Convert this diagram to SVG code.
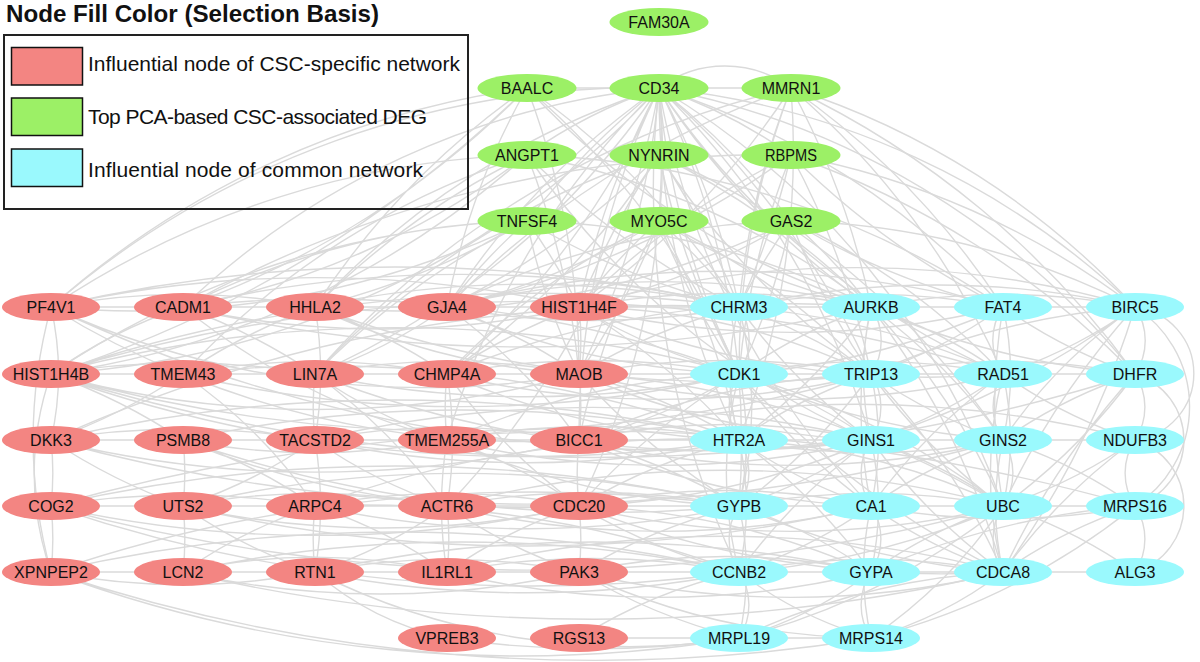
<svg xmlns="http://www.w3.org/2000/svg" width="1200" height="662" viewBox="0 0 1200 662">
<style>
.e path{fill:none;stroke:#dadada;stroke-width:1.4}
.r{fill:#F38582}.g{fill:#9CF066}.c{fill:#9AF9FD}
.t{font-family:"Liberation Sans",Arial,Helvetica,sans-serif;font-size:16px;text-anchor:middle;fill:#111}
.lt{font-family:"Liberation Sans",Arial,Helvetica,sans-serif;font-size:21px;fill:#111}
.sw{stroke:#111;stroke-width:1.5}
</style>
<rect width="1200" height="662" fill="#fff"/>
<g id="connectors" class="e">
<path d="M659 88A800 800 0 0 1 739 307M659 88A800 800 0 0 0 871 307M659 88A800 800 0 0 1 1003 307M659 88A800 800 0 0 1 1135 307M659 88A800 800 0 0 0 739 374M659 88A800 800 0 0 1 871 374M659 88A800 800 0 0 0 1003 374M659 88A800 800 0 0 1 1135 374M659 88A800 800 0 0 0 739 440M659 88A800 800 0 0 1 871 440M659 88A800 800 0 0 1 739 506M659 88A800 800 0 0 0 871 506M659 88A800 800 0 0 1 1003 506M659 88A900 900 0 0 0 739 572"/>
<path d="M659 88A800 800 0 0 0 579 307M659 88A800 800 0 0 1 579 374M659 88A800 800 0 0 0 579 440M659 88A800 800 0 0 1 579 506M659 88A800 800 0 0 0 447 307M659 88A800 800 0 0 1 447 374M659 88A800 800 0 0 0 447 440M659 88A800 800 0 0 1 447 506M659 88A800 800 0 0 0 315 307M659 88A800 800 0 0 1 315 374M659 88A800 800 0 0 0 183 307M659 88A900 900 0 0 0 51 307M659 88A900 900 0 0 1 51 374"/>
<path d="M527 88L659 88M659 88L791 88M659 88A110 110 0 0 1 791 88M659 88A800 800 0 0 1 791 221M659 88A800 800 0 0 0 527 221M659 88A600 600 0 0 1 659 221M659 88A500 500 0 0 1 791 155M659 88A500 500 0 0 0 527 155"/>
<path d="M527 88A900 900 0 0 0 51 307M527 88A900 900 0 0 1 183 307M527 88A800 800 0 0 0 315 307M527 88A1200 1200 0 0 1 51 374M527 88A800 800 0 0 1 739 307M527 88A800 800 0 0 1 579 374M527 88A800 800 0 0 0 871 307M527 88A800 800 0 0 1 739 374M527 88A700 700 0 0 0 447 307"/>
<path d="M791 88A800 800 0 0 1 1003 307M791 88A800 800 0 0 1 1135 307M791 88A800 800 0 0 0 739 307M791 88A800 800 0 0 1 871 307M791 88A900 900 0 0 0 447 307M791 88A800 800 0 0 1 579 307M791 88A900 900 0 0 0 315 374M791 88A800 800 0 0 0 739 374M791 88A800 800 0 0 1 1003 374M791 88A800 800 0 0 1 739 440M791 88A900 900 0 0 1 1135 374"/>
<path d="M527 155A900 900 0 0 0 51 307M527 155A800 800 0 0 1 183 307M527 155A900 900 0 0 1 51 374M527 155A800 800 0 0 0 315 307M527 155A800 800 0 0 0 183 374M527 155A800 800 0 0 0 739 307M527 155A800 800 0 0 1 871 307M527 155A800 800 0 0 0 871 440M527 155A800 800 0 0 1 579 374M527 155A900 900 0 0 1 1003 307"/>
<path d="M659 155A800 800 0 0 1 739 307M659 155A800 800 0 0 0 579 307M659 155A800 800 0 0 1 447 307M659 155A800 800 0 0 0 871 374M659 155A800 800 0 0 0 739 374M659 155A800 800 0 0 0 315 374M659 155A800 800 0 0 1 871 307M659 155A800 800 0 0 1 447 374M659 155A800 800 0 0 1 1003 440"/>
<path d="M791 155A800 800 0 0 1 1135 307M791 155A800 800 0 0 0 1003 307M791 155A900 900 0 0 1 1135 374M791 155A800 800 0 0 1 739 307M791 155A800 800 0 0 0 579 307M791 155A900 900 0 0 1 447 307M791 155A1200 1200 0 0 0 183 307M791 155A800 800 0 0 1 871 374M791 155A800 800 0 0 0 739 374"/>
<path d="M527 221A900 900 0 0 1 51 307M527 221A800 800 0 0 0 183 307M527 221A900 900 0 0 0 51 374M527 221A800 800 0 0 1 315 307M527 221A600 600 0 0 0 447 307M527 221A600 600 0 0 1 579 307M527 221A800 800 0 0 0 739 307M527 221A600 600 0 0 0 579 374M527 221A800 800 0 0 0 315 374M527 221A800 800 0 0 1 871 307"/>
<path d="M659 221A700 700 0 0 1 447 307M659 221A600 600 0 0 0 579 307M659 221A600 600 0 0 1 739 307M659 221A700 700 0 0 0 739 374M659 221A700 700 0 0 0 871 307M659 221A700 700 0 0 1 579 374M659 221A700 700 0 0 0 447 374M659 221A800 800 0 0 1 739 440M659 221A700 700 0 0 1 871 374M659 221A800 800 0 0 0 579 440"/>
<path d="M791 221A600 600 0 0 0 739 307M791 221A600 600 0 0 1 871 307M791 221A700 700 0 0 0 1003 307M791 221A800 800 0 0 1 1135 307M791 221A700 700 0 0 1 739 374M791 221A700 700 0 0 0 871 374M791 221A700 700 0 0 1 579 307M791 221A800 800 0 0 0 447 307M791 221A700 700 0 0 1 1003 374M791 221A900 900 0 0 1 315 307"/>
<path d="M51 307L183 307M51 307A1200 1200 0 0 1 579 307M51 307A1500 1500 0 0 1 739 307M51 307A800 800 0 0 0 183 374M51 307A500 500 0 0 0 51 572M51 307A700 700 0 0 1 315 307M51 307A1500 1500 0 0 0 871 440M51 307A900 900 0 0 0 579 374M51 307A300 300 0 0 1 51 440"/>
<path d="M183 307L315 307M183 307A900 900 0 0 0 579 307M183 307A1200 1200 0 0 1 739 307M183 307A600 600 0 0 1 315 374M183 307A700 700 0 0 0 447 440M183 307A1500 1500 0 0 0 871 307M183 307A1200 1200 0 0 1 739 374M183 307A500 500 0 0 0 51 374"/>
<path d="M315 307L447 307M315 307A600 600 0 0 1 447 374M315 307A700 700 0 0 0 579 374M315 307A1000 1000 0 0 1 739 307M315 307A1200 1200 0 0 0 871 374M315 307A400 400 0 0 1 315 440M315 307A600 600 0 0 0 183 374"/>
<path d="M447 307L579 307M447 307A800 800 0 0 0 739 307M447 307A900 900 0 0 1 871 307M447 307A600 600 0 0 1 579 374M447 307A800 800 0 0 0 739 374M447 307A600 600 0 0 1 579 440M447 307A1100 1100 0 0 1 1003 307M447 307A500 500 0 0 1 315 374"/>
<path d="M579 307L739 307M579 307A800 800 0 0 1 871 307M579 307A900 900 0 0 0 1003 307M579 307A1000 1000 0 0 1 1135 307M579 307A600 600 0 0 0 739 374M579 307A700 700 0 0 1 871 374M579 307A300 300 0 0 1 579 374M579 307A700 700 0 0 1 739 440M579 307A900 900 0 0 0 1003 374M579 307A600 600 0 0 0 447 374"/>
<path d="M51 374L183 374M51 374A1500 1500 0 0 1 739 307M51 374A1300 1300 0 0 1 739 374M51 374A1000 1000 0 0 0 579 374M51 374A1500 1500 0 0 0 871 374M51 374A1600 1600 0 0 1 1003 374M51 374A1800 1800 0 0 0 1135 374M51 374A1400 1400 0 0 0 739 440M51 374A800 800 0 0 1 315 374M51 374A300 300 0 0 0 51 572M51 374A600 600 0 0 1 183 440"/>
<path d="M183 374L315 374M183 374A700 700 0 0 1 447 374M183 374A1200 1200 0 0 0 739 374M183 374A900 900 0 0 0 579 440M183 374A1200 1200 0 0 1 739 440M183 374A500 500 0 0 1 315 506M183 374A600 600 0 0 1 51 440"/>
<path d="M315 374L447 374M315 374A700 700 0 0 1 579 374M315 374A1000 1000 0 0 0 739 374M315 374A500 500 0 0 0 447 440M315 374A600 600 0 0 1 447 506M315 374A1100 1100 0 0 0 871 440M315 374A300 300 0 0 0 315 440"/>
<path d="M447 374L579 374M447 374A800 800 0 0 1 739 374M447 374A900 900 0 0 0 871 374M447 374A400 400 0 0 1 447 506M447 374A600 600 0 0 0 579 506M447 374A800 800 0 0 0 739 440M447 374A900 900 0 0 1 871 307M447 374A300 300 0 0 0 447 440"/>
<path d="M579 374L739 374M579 374A800 800 0 0 1 871 374M579 374A900 900 0 0 0 1003 374M579 374A600 600 0 0 1 739 440M579 374A300 300 0 0 1 579 440M579 374A800 800 0 0 0 871 440M579 374A600 600 0 0 1 739 307M579 374A900 900 0 0 1 1003 506M579 374A700 700 0 0 0 739 506"/>
<path d="M51 440L183 440M51 440A800 800 0 0 1 315 440M51 440A1500 1500 0 0 1 739 440M51 440A1100 1100 0 0 0 579 440M51 440A1500 1500 0 0 1 739 307M51 440A1800 1800 0 0 0 1003 440M51 440A600 600 0 0 0 183 506M51 440A300 300 0 0 1 51 506"/>
<path d="M183 440L315 440M183 440A700 700 0 0 0 447 440M183 440A1300 1300 0 0 1 739 440M183 440A900 900 0 0 0 579 506M183 440A500 500 0 0 1 315 506M183 440A1300 1300 0 0 0 739 506M183 440A300 300 0 0 1 183 506"/>
<path d="M315 440L447 440M315 440A700 700 0 0 1 579 440M315 440A1000 1000 0 0 0 739 440M315 440A1200 1200 0 0 1 871 440M315 440A500 500 0 0 0 447 506M315 440A400 400 0 0 1 315 572M315 440A500 500 0 0 1 183 506"/>
<path d="M447 440L579 440M447 440A800 800 0 0 1 739 440M447 440A900 900 0 0 0 871 440M447 440A500 500 0 0 1 579 506M447 440A400 400 0 0 0 447 572M447 440A800 800 0 0 0 739 506M447 440A800 800 0 0 1 739 374"/>
<path d="M579 440L739 440M579 440A700 700 0 0 1 871 440M579 440A900 900 0 0 0 1003 440M579 440A600 600 0 0 0 739 374M579 440A600 600 0 0 1 739 506M579 440A300 300 0 0 0 579 506M579 440A1100 1100 0 0 1 1135 440M579 440A800 800 0 0 0 871 506M579 440A800 800 0 0 1 871 374"/>
<path d="M51 506L183 506M51 506A800 800 0 0 1 315 506M51 506A1500 1500 0 0 1 739 506M51 506A1500 1500 0 0 0 739 572M51 506A1200 1200 0 0 0 579 506M51 506A2000 2000 0 0 1 1135 506M51 506A1800 1800 0 0 0 1003 506M51 506A300 300 0 0 1 51 572"/>
<path d="M183 506L315 506M183 506A700 700 0 0 1 447 506M183 506A900 900 0 0 0 579 506M183 506A1200 1200 0 0 1 739 506M183 506A300 300 0 0 1 183 572M183 506A1500 1500 0 0 0 871 506M183 506A500 500 0 0 0 315 572"/>
<path d="M315 506L447 506M315 506A700 700 0 0 1 579 506M315 506A1000 1000 0 0 0 739 506M315 506A300 300 0 0 0 315 572M315 506A500 500 0 0 1 447 572M315 506A500 500 0 0 0 183 572M315 506A1100 1100 0 0 1 739 572M315 506A1100 1100 0 0 1 739 440"/>
<path d="M447 506L579 506M447 506A800 800 0 0 1 739 506M447 506A900 900 0 0 0 871 506M447 506A300 300 0 0 1 447 572M447 506A500 500 0 0 0 579 572M447 506A1100 1100 0 0 1 1003 506M447 506A500 500 0 0 1 315 572"/>
<path d="M579 506L739 506M579 506A700 700 0 0 1 871 506M579 506A900 900 0 0 0 1003 506M579 506A600 600 0 0 0 739 572M579 506A800 800 0 0 1 871 572M579 506A1000 1000 0 0 0 1003 572M579 506A300 300 0 0 1 579 572M579 506A600 600 0 0 1 739 440M579 506A800 800 0 0 0 871 440M579 506A700 700 0 0 1 739 374"/>
<path d="M51 572L183 572M51 572A1350 1350 0 0 0 739 638M51 572A1720 1720 0 0 0 871 638M51 572A1500 1500 0 0 1 739 572M51 572A700 700 0 0 0 315 572M51 572A1500 1500 0 0 1 739 506"/>
<path d="M183 572L315 572M183 572A900 900 0 0 0 579 572M183 572A1300 1300 0 0 1 739 572M183 572A1800 1800 0 0 0 1003 572M183 572A600 600 0 0 1 447 572"/>
<path d="M315 572L447 572M315 572A700 700 0 0 1 579 572M315 572A1100 1100 0 0 0 739 572M315 572A1300 1300 0 0 1 871 572M315 572A700 700 0 0 0 739 638M315 572A300 300 0 0 0 447 638"/>
<path d="M447 572L579 572M447 572A800 800 0 0 1 739 572M447 572A900 900 0 0 0 871 572M447 572A1100 1100 0 0 1 1003 572M447 572A500 500 0 0 1 579 506"/>
<path d="M579 572L739 572M579 572A700 700 0 0 1 871 572M579 572A900 900 0 0 0 1003 572M579 572A600 600 0 0 0 739 638M579 572A700 700 0 0 0 871 638M579 572A600 600 0 0 1 739 506"/>
<path d="M447 638A1000 1000 0 0 0 739 638M579 638L739 638M579 638A500 500 0 0 1 739 572"/>
<path d="M739 307L871 307M739 307A60 60 0 0 1 739 374M739 307A600 600 0 0 1 871 374M739 307A250 250 0 0 0 739 440M739 307A700 700 0 0 1 1003 307M739 307A600 600 0 0 0 871 440M739 307A900 900 0 0 1 1135 307M739 307A800 800 0 0 1 1003 374M739 307A400 400 0 0 1 739 506"/>
<path d="M871 307L1003 307M871 307A700 700 0 0 1 1135 307M871 307A60 60 0 0 1 871 374M871 307A500 500 0 0 0 739 374M871 307A500 500 0 0 1 1003 374M871 307A300 300 0 0 0 871 440M871 307A600 600 0 0 1 1003 440M871 307A800 800 0 0 0 1135 374M871 307A700 700 0 0 1 1003 506M871 307A500 500 0 0 0 871 506M871 307A800 800 0 0 1 1003 572M871 307A600 600 0 0 1 739 440"/>
<path d="M1003 307L1135 307M1003 307A60 60 0 0 0 1003 374M1003 307A500 500 0 0 1 871 374M1003 307A500 500 0 0 0 1135 374M1003 307A300 300 0 0 1 1003 440M1003 307A600 600 0 0 0 1003 506M1003 307A800 800 0 0 1 739 374"/>
<path d="M1135 307A60 60 0 0 1 1135 374M1135 307A500 500 0 0 1 1003 374M1135 307A800 800 0 0 0 871 374M1135 307A67 67 0 0 1 1135 440M1135 307A800 800 0 0 0 1003 506M1135 307A900 900 0 0 1 1003 572M1135 307A500 500 0 0 0 1003 440M1135 307A118 118 0 0 1 1135 506M1135 307A900 900 0 0 1 871 440"/>
<path d="M739 374L871 374M739 374A700 700 0 0 1 1003 374M739 374A60 60 0 0 0 739 440M739 374A500 500 0 0 1 871 440M739 374A300 300 0 0 1 739 506M739 374A600 600 0 0 0 871 506M739 374A800 800 0 0 1 1003 506M739 374A900 900 0 0 0 1003 572M739 374A400 400 0 0 0 739 572M739 374A800 800 0 0 0 1003 440"/>
<path d="M871 374L1003 374M871 374A60 60 0 0 1 871 440M871 374A500 500 0 0 0 1003 440M871 374A300 300 0 0 1 871 506M871 374A600 600 0 0 0 1003 506M871 374A700 700 0 0 1 1135 374M871 374A700 700 0 0 1 1003 572M871 374A500 500 0 0 0 739 440M871 374A600 600 0 0 1 739 506"/>
<path d="M1003 374L1135 374M1003 374A60 60 0 0 0 1003 440M1003 374A300 300 0 0 1 1003 506M1003 374A400 400 0 0 0 1003 572M1003 374A500 500 0 0 1 871 440M1003 374A500 500 0 0 0 1135 440M1003 374A600 600 0 0 0 871 506"/>
<path d="M1135 374A60 60 0 0 1 1135 440M1135 374A600 600 0 0 1 1003 506M1135 374A69 69 0 0 1 1135 506M1135 374A500 500 0 0 0 1003 440M1135 374A800 800 0 0 0 1003 572"/>
<path d="M739 440L871 440M739 440A60 60 0 0 1 739 506M739 440A500 500 0 0 0 871 506M739 440A300 300 0 0 1 739 572M739 440A700 700 0 0 1 1003 506M739 440A700 700 0 0 0 1003 440M739 440A600 600 0 0 1 871 572"/>
<path d="M871 440L1003 440M871 440A60 60 0 0 0 871 506M871 440A500 500 0 0 1 1003 506M871 440A600 600 0 0 0 1003 572M871 440A300 300 0 0 1 871 572M871 440A500 500 0 0 1 739 506M871 440A600 600 0 0 0 739 572"/>
<path d="M1003 440L1135 440M1003 440A60 60 0 0 1 1003 506M1003 440A300 300 0 0 0 1003 572M1003 440A500 500 0 0 1 1135 506M1003 440A500 500 0 0 0 871 506"/>
<path d="M1135 440A60 60 0 0 0 1135 506M1135 440A69 69 0 0 1 1135 572M1135 440A500 500 0 0 1 1003 506M1135 440A600 600 0 0 0 1003 572"/>
<path d="M739 506L871 506M739 506A60 60 0 0 0 739 572M739 506A500 500 0 0 1 871 572M739 506A700 700 0 0 1 1003 506M739 506A300 300 0 0 1 739 638M739 506A800 800 0 0 0 1003 572"/>
<path d="M871 506L1003 506M871 506A60 60 0 0 1 871 572M871 506A500 500 0 0 0 1003 572M871 506A500 500 0 0 1 739 572M871 506A300 300 0 0 0 871 638M871 506A700 700 0 0 0 1135 506"/>
<path d="M1003 506L1135 506M1003 506A60 60 0 0 0 1003 572M1003 506A500 500 0 0 1 1135 572M1003 506A500 500 0 0 1 871 638M1003 506A500 500 0 0 0 871 572M1003 506A800 800 0 0 1 739 572M1003 506A700 700 0 0 1 739 638"/>
<path d="M1135 506A500 500 0 0 0 1003 572M1135 506A60 60 0 0 1 1135 572M1135 506A700 700 0 0 1 871 638M1135 506A800 800 0 0 0 871 572"/>
<path d="M739 572L871 572M739 572A60 60 0 0 1 739 638M739 572A700 700 0 0 1 1003 572M739 572A400 400 0 0 0 871 638M871 572L1003 572M871 572A60 60 0 0 0 871 638M871 572A400 400 0 0 1 739 638M1003 572L1135 572M1003 572A400 400 0 0 1 871 638M1003 572A700 700 0 0 0 739 638M739 638L871 638"/>
</g>
<g id="legend">
<text x="6" y="22" font-family="Liberation Sans, Arial, Helvetica, sans-serif" font-size="24" font-weight="bold" fill="#111" textLength="373" lengthAdjust="spacingAndGlyphs">Node Fill Color (Selection Basis)</text>
<rect x="4" y="35" width="464" height="174" fill="none" stroke="#222" stroke-width="2"/>
<rect class="sw r" x="11.5" y="47.5" width="71" height="37.5"/>
<rect class="sw g" x="11.5" y="98" width="71" height="37.5"/>
<rect class="sw c" x="11.5" y="149" width="71" height="37.5"/>
<text class="lt" x="88" y="71" textLength="372" lengthAdjust="spacing">Influential node of CSC-specific network</text>
<text class="lt" x="88" y="124" textLength="339" lengthAdjust="spacing">Top PCA-based CSC-associated DEG</text>
<text class="lt" x="88" y="177" textLength="335" lengthAdjust="spacing">Influential node of common network</text>
</g>
<g id="n_FAM30A"><ellipse class="g" cx="659" cy="22" rx="49.5" ry="14"/><text class="t" x="659" y="28">FAM30A</text></g>
<g id="n_BAALC"><ellipse class="g" cx="527" cy="88" rx="49.5" ry="14"/><text class="t" x="527" y="94">BAALC</text></g>
<g id="n_CD34"><ellipse class="g" cx="659" cy="88" rx="49.5" ry="14"/><text class="t" x="659" y="94">CD34</text></g>
<g id="n_MMRN1"><ellipse class="g" cx="791" cy="88" rx="49.5" ry="14"/><text class="t" x="791" y="94">MMRN1</text></g>
<g id="n_ANGPT1"><ellipse class="g" cx="527" cy="155" rx="49.5" ry="14"/><text class="t" x="527" y="161">ANGPT1</text></g>
<g id="n_NYNRIN"><ellipse class="g" cx="659" cy="155" rx="49.5" ry="14"/><text class="t" x="659" y="161">NYNRIN</text></g>
<g id="n_RBPMS"><ellipse class="g" cx="791" cy="155" rx="49.5" ry="14"/><text class="t" x="791" y="161" textLength="52" lengthAdjust="spacingAndGlyphs">RBPMS</text></g>
<g id="n_TNFSF4"><ellipse class="g" cx="527" cy="221" rx="49.5" ry="14"/><text class="t" x="527" y="227">TNFSF4</text></g>
<g id="n_MYO5C"><ellipse class="g" cx="659" cy="221" rx="49.5" ry="14"/><text class="t" x="659" y="227">MYO5C</text></g>
<g id="n_GAS2"><ellipse class="g" cx="791" cy="221" rx="49.5" ry="14"/><text class="t" x="791" y="227">GAS2</text></g>
<g id="n_PF4V1"><ellipse class="r" cx="51" cy="307" rx="49" ry="14"/><text class="t" x="51" y="313">PF4V1</text></g>
<g id="n_CADM1"><ellipse class="r" cx="183" cy="307" rx="49" ry="14"/><text class="t" x="183" y="313">CADM1</text></g>
<g id="n_HHLA2"><ellipse class="r" cx="315" cy="307" rx="49" ry="14"/><text class="t" x="315" y="313">HHLA2</text></g>
<g id="n_GJA4"><ellipse class="r" cx="447" cy="307" rx="49" ry="14"/><text class="t" x="447" y="313">GJA4</text></g>
<g id="n_HIST1H4F"><ellipse class="r" cx="579" cy="307" rx="49" ry="14"/><text class="t" x="579" y="313">HIST1H4F</text></g>
<g id="n_HIST1H4B"><ellipse class="r" cx="51" cy="374" rx="49" ry="14"/><text class="t" x="51" y="380">HIST1H4B</text></g>
<g id="n_TMEM43"><ellipse class="r" cx="183" cy="374" rx="49" ry="14"/><text class="t" x="183" y="380">TMEM43</text></g>
<g id="n_LIN7A"><ellipse class="r" cx="315" cy="374" rx="49" ry="14"/><text class="t" x="315" y="380">LIN7A</text></g>
<g id="n_CHMP4A"><ellipse class="r" cx="447" cy="374" rx="49" ry="14"/><text class="t" x="447" y="380">CHMP4A</text></g>
<g id="n_MAOB"><ellipse class="r" cx="579" cy="374" rx="49" ry="14"/><text class="t" x="579" y="380">MAOB</text></g>
<g id="n_DKK3"><ellipse class="r" cx="51" cy="440" rx="49" ry="14"/><text class="t" x="51" y="446">DKK3</text></g>
<g id="n_PSMB8"><ellipse class="r" cx="183" cy="440" rx="49" ry="14"/><text class="t" x="183" y="446">PSMB8</text></g>
<g id="n_TACSTD2"><ellipse class="r" cx="315" cy="440" rx="49" ry="14"/><text class="t" x="315" y="446">TACSTD2</text></g>
<g id="n_TMEM255A"><ellipse class="r" cx="447" cy="440" rx="49" ry="14"/><text class="t" x="447" y="446">TMEM255A</text></g>
<g id="n_BICC1"><ellipse class="r" cx="579" cy="440" rx="49" ry="14"/><text class="t" x="579" y="446">BICC1</text></g>
<g id="n_COG2"><ellipse class="r" cx="51" cy="506" rx="49" ry="14"/><text class="t" x="51" y="512">COG2</text></g>
<g id="n_UTS2"><ellipse class="r" cx="183" cy="506" rx="49" ry="14"/><text class="t" x="183" y="512">UTS2</text></g>
<g id="n_ARPC4"><ellipse class="r" cx="315" cy="506" rx="49" ry="14"/><text class="t" x="315" y="512">ARPC4</text></g>
<g id="n_ACTR6"><ellipse class="r" cx="447" cy="506" rx="49" ry="14"/><text class="t" x="447" y="512">ACTR6</text></g>
<g id="n_CDC20"><ellipse class="r" cx="579" cy="506" rx="49" ry="14"/><text class="t" x="579" y="512">CDC20</text></g>
<g id="n_XPNPEP2"><ellipse class="r" cx="51" cy="572" rx="49" ry="14"/><text class="t" x="51" y="578">XPNPEP2</text></g>
<g id="n_LCN2"><ellipse class="r" cx="183" cy="572" rx="49" ry="14"/><text class="t" x="183" y="578">LCN2</text></g>
<g id="n_RTN1"><ellipse class="r" cx="315" cy="572" rx="49" ry="14"/><text class="t" x="315" y="578">RTN1</text></g>
<g id="n_IL1RL1"><ellipse class="r" cx="447" cy="572" rx="49" ry="14"/><text class="t" x="447" y="578">IL1RL1</text></g>
<g id="n_PAK3"><ellipse class="r" cx="579" cy="572" rx="49" ry="14"/><text class="t" x="579" y="578">PAK3</text></g>
<g id="n_VPREB3"><ellipse class="r" cx="447" cy="638" rx="49" ry="14"/><text class="t" x="447" y="644">VPREB3</text></g>
<g id="n_RGS13"><ellipse class="r" cx="579" cy="638" rx="49" ry="14"/><text class="t" x="579" y="644">RGS13</text></g>
<g id="n_CHRM3"><ellipse class="c" cx="739" cy="307" rx="49" ry="14"/><text class="t" x="739" y="313">CHRM3</text></g>
<g id="n_AURKB"><ellipse class="c" cx="871" cy="307" rx="49" ry="14"/><text class="t" x="871" y="313">AURKB</text></g>
<g id="n_FAT4"><ellipse class="c" cx="1003" cy="307" rx="49" ry="14"/><text class="t" x="1003" y="313">FAT4</text></g>
<g id="n_BIRC5"><ellipse class="c" cx="1135" cy="307" rx="49" ry="14"/><text class="t" x="1135" y="313">BIRC5</text></g>
<g id="n_CDK1"><ellipse class="c" cx="739" cy="374" rx="49" ry="14"/><text class="t" x="739" y="380">CDK1</text></g>
<g id="n_TRIP13"><ellipse class="c" cx="871" cy="374" rx="49" ry="14"/><text class="t" x="871" y="380">TRIP13</text></g>
<g id="n_RAD51"><ellipse class="c" cx="1003" cy="374" rx="49" ry="14"/><text class="t" x="1003" y="380">RAD51</text></g>
<g id="n_DHFR"><ellipse class="c" cx="1135" cy="374" rx="49" ry="14"/><text class="t" x="1135" y="380">DHFR</text></g>
<g id="n_HTR2A"><ellipse class="c" cx="739" cy="440" rx="49" ry="14"/><text class="t" x="739" y="446">HTR2A</text></g>
<g id="n_GINS1"><ellipse class="c" cx="871" cy="440" rx="49" ry="14"/><text class="t" x="871" y="446">GINS1</text></g>
<g id="n_GINS2"><ellipse class="c" cx="1003" cy="440" rx="49" ry="14"/><text class="t" x="1003" y="446">GINS2</text></g>
<g id="n_NDUFB3"><ellipse class="c" cx="1135" cy="440" rx="49" ry="14"/><text class="t" x="1135" y="446">NDUFB3</text></g>
<g id="n_GYPB"><ellipse class="c" cx="739" cy="506" rx="49" ry="14"/><text class="t" x="739" y="512">GYPB</text></g>
<g id="n_CA1"><ellipse class="c" cx="871" cy="506" rx="49" ry="14"/><text class="t" x="871" y="512">CA1</text></g>
<g id="n_UBC"><ellipse class="c" cx="1003" cy="506" rx="49" ry="14"/><text class="t" x="1003" y="512">UBC</text></g>
<g id="n_MRPS16"><ellipse class="c" cx="1135" cy="506" rx="49" ry="14"/><text class="t" x="1135" y="512">MRPS16</text></g>
<g id="n_CCNB2"><ellipse class="c" cx="739" cy="572" rx="49" ry="14"/><text class="t" x="739" y="578">CCNB2</text></g>
<g id="n_GYPA"><ellipse class="c" cx="871" cy="572" rx="49" ry="14"/><text class="t" x="871" y="578">GYPA</text></g>
<g id="n_CDCA8"><ellipse class="c" cx="1003" cy="572" rx="49" ry="14"/><text class="t" x="1003" y="578">CDCA8</text></g>
<g id="n_ALG3"><ellipse class="c" cx="1135" cy="572" rx="49" ry="14"/><text class="t" x="1135" y="578">ALG3</text></g>
<g id="n_MRPL19"><ellipse class="c" cx="739" cy="638" rx="49" ry="14"/><text class="t" x="739" y="644">MRPL19</text></g>
<g id="n_MRPS14"><ellipse class="c" cx="871" cy="638" rx="49" ry="14"/><text class="t" x="871" y="644">MRPS14</text></g>
</svg>
